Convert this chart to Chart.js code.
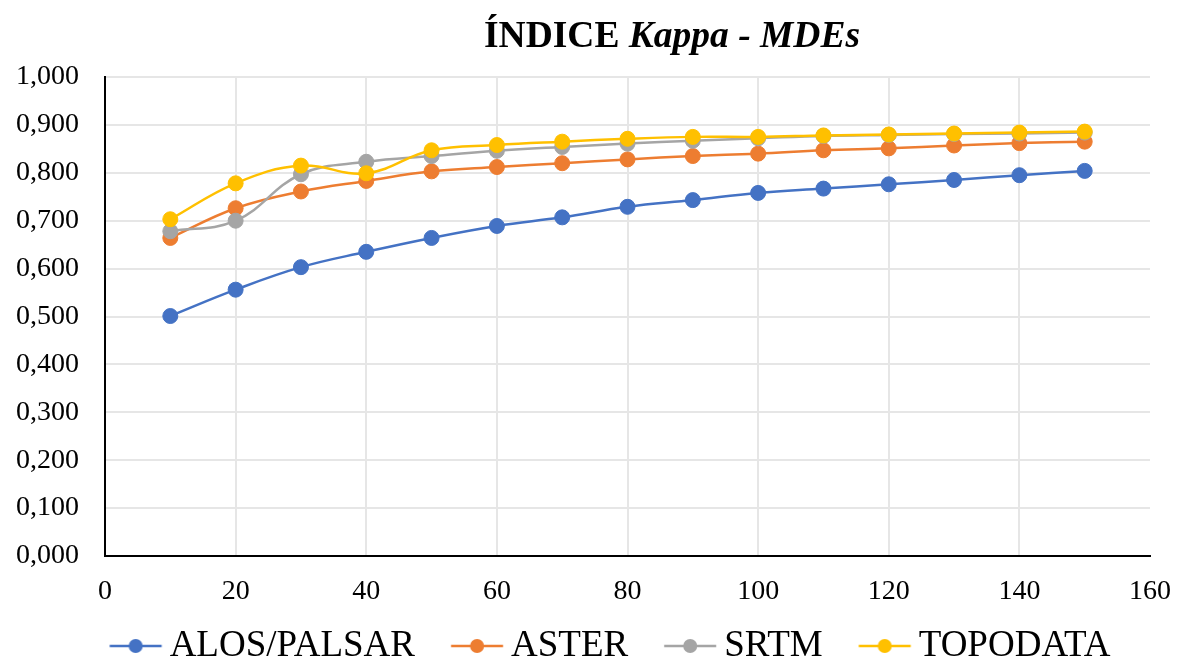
<!DOCTYPE html>
<html>
<head>
<meta charset="utf-8">
<script src="https://cdn.jsdelivr.net/npm/chart.js@4/dist/chart.umd.min.js"></script>
<style>
  html, body { margin: 0; padding: 0; background: #fff; }
  #wrap { width: 1186px; height: 660px; }
</style>
</head>
<body>
<div id="wrap"><canvas id="kappaChart"></canvas></div>
<script>
const resolutions = [10, 20, 30, 40, 50, 60, 70, 80, 90, 100, 110, 120, 130, 140, 150];
const alosPalsar = [0.501, 0.556, 0.603, 0.635, 0.664, 0.689, 0.707, 0.729, 0.743, 0.758, 0.767, 0.776, 0.785, 0.795, 0.804];
const aster      = [0.664, 0.726, 0.761, 0.783, 0.803, 0.812, 0.820, 0.828, 0.835, 0.840, 0.847, 0.851, 0.857, 0.862, 0.865];
const srtm       = [0.678, 0.700, 0.797, 0.823, 0.835, 0.846, 0.854, 0.861, 0.867, 0.872, 0.877, 0.879, 0.881, 0.882, 0.884];
const topodata   = [0.703, 0.778, 0.815, 0.799, 0.847, 0.858, 0.865, 0.871, 0.875, 0.875, 0.878, 0.880, 0.882, 0.884, 0.886];
const seriesNames = ['ALOS/PALSAR', 'ASTER', 'SRTM', 'TOPODATA'];
const seriesColors = ['#4472C4', '#ED7D31', '#A5A5A5', '#FFC000'];
const xTicks = [0, 20, 40, 60, 80, 100, 120, 140, 160];
const yTicks = [0, 0.1, 0.2, 0.3, 0.4, 0.5, 0.6, 0.7, 0.8, 0.9, 1.0];

const serif = "'Liberation Serif', 'Times New Roman', serif";

// line + marker icon for the legend; the box is 71.5 wide, line sits at its right end
function legendIcon(color) {
    const c = document.createElement('canvas');
    c.width = 100; c.height = 18;
    const g = c.getContext('2d');
    g.strokeStyle = color;
    g.lineWidth = 2.5;
    g.beginPath(); g.moveTo(44.25, 9); g.lineTo(96.25, 9); g.stroke();
    g.fillStyle = color;
    g.beginPath(); g.arc(70.25, 9, 7, 0, Math.PI * 2); g.fill();
    return c;
}

const allValues = [alosPalsar, aster, srtm, topodata];
const datasets = allValues.map((vals, i) => ({
    label: seriesNames[i],
    data: resolutions.map((r, j) => ({ x: r, y: vals[j] })),
    borderColor: seriesColors[i],
    backgroundColor: seriesColors[i],
    pointBackgroundColor: seriesColors[i],
    pointBorderColor: seriesColors[i],
    pointRadius: 7.5,
    pointBorderWidth: 1,
    borderWidth: 2.5,
    tension: 0.4,
    order: 3 - i
}));

const titlePlugin = {
    id: 'mixedTitle',
    afterLayout(chart) {
        // nudge the legend to where Excel put it
        const lg = chart.legend;
        if (lg) {
            lg.left += 20; lg.right += 20;
            lg.top += 14.5; lg.bottom += 14.5;
        }
    },
    afterDraw(chart) {
        const ctx = chart.ctx;
        ctx.save();
        ctx.fillStyle = '#000';
        ctx.textBaseline = 'alphabetic';
        const p1 = 'ÍNDICE ', p2 = 'Kappa - MDEs';
        ctx.font = 'bold 37.5px ' + serif;
        const w1 = ctx.measureText(p1).width;
        ctx.font = 'italic bold 37.5px ' + serif;
        const w2 = ctx.measureText(p2).width;
        let x = 672 - (w1 + w2) / 2;
        ctx.font = 'bold 37.5px ' + serif;
        ctx.fillText(p1, x, 47);
        ctx.font = 'italic bold 37.5px ' + serif;
        ctx.fillText(p2, x + w1, 47);
        ctx.restore();
    }
};

const ctx = document.getElementById('kappaChart').getContext('2d');
new Chart(ctx, {
    type: 'line',
    data: { datasets: datasets },
    plugins: [titlePlugin],
    options: {
        responsive: true,
        maintainAspectRatio: false,
        animation: false,
        layout: { padding: { top: 77, right: 36, left: 0, bottom: 0 } },
        plugins: {
            title: { display: false },
            tooltip: { enabled: false },
            legend: {
                position: 'bottom',
                labels: {
                    usePointStyle: true,
                    pointStyleWidth: 71.5,
                    padding: 6,
                    color: '#000',
                    font: { family: serif, size: 37 },
                    generateLabels(chart) {
                        return seriesNames.map((n, i) => ({
                            text: n,
                            datasetIndex: i,
                            pointStyle: legendIcon(seriesColors[i]),
                            fillStyle: seriesColors[i],
                            strokeStyle: seriesColors[i],
                            lineWidth: 0,
                            fontColor: '#000',
                            hidden: false
                        }));
                    }
                }
            }
        },
        scales: {
            x: {
                type: 'linear',
                min: 0,
                max: 160,
                afterBuildTicks(s) { s.ticks = xTicks.map(v => ({ value: v })); },
                afterFit(s) { s.height = 51; s.paddingLeft = 0; s.paddingRight = 0; },
                border: { color: '#000', width: 2 },
                grid: {
                    color: c => (c.tick && c.tick.value === 160) ? 'rgba(0,0,0,0)' : '#e6e6e6',
                    lineWidth: 2,
                    drawTicks: false
                },
                ticks: {
                    color: '#000',
                    padding: 22,
                    font: { family: serif, size: 28, lineHeight: 1 }
                }
            },
            y: {
                min: 0,
                max: 1,
                afterBuildTicks(s) { s.ticks = yTicks.map(v => ({ value: v })); },
                afterFit(s) { s.width = 105; },
                border: { color: '#000', width: 2 },
                grid: { color: '#e6e6e6', lineWidth: 2, drawTicks: false },
                ticks: {
                    color: '#000',
                    padding: 26,
                    font: { family: serif, size: 28 },
                    callback: v => v.toFixed(3).replace('.', ',')
                }
            }
        }
    }
});
</script>
</body>
</html>
